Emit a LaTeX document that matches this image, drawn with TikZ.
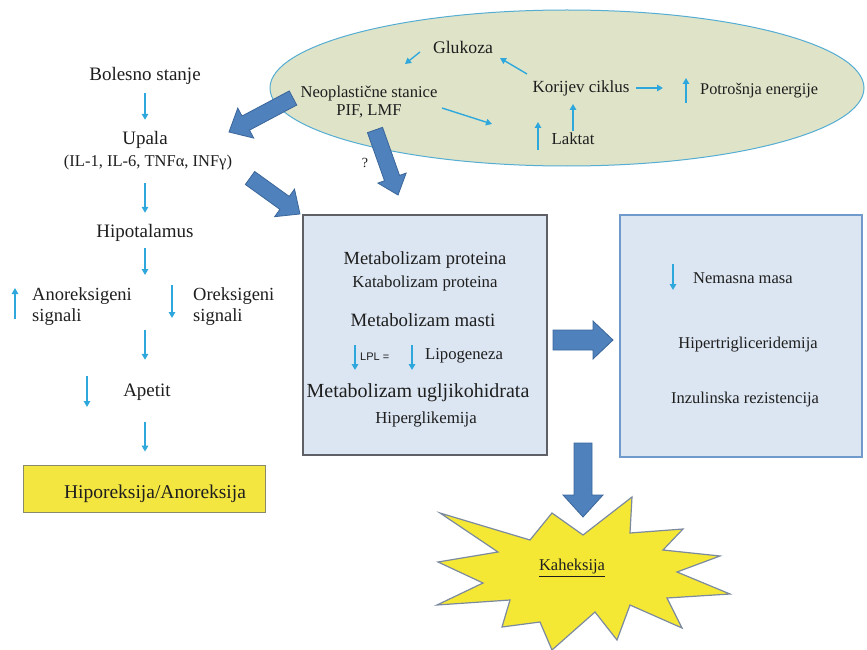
\documentclass[tikz,border=0pt]{standalone}
\usepackage{fontspec}
\setmainfont{Liberation Serif}
\setsansfont{Liberation Sans}
\usetikzlibrary{arrows.meta,shapes.geometric}
\definecolor{ellfill}{HTML}{DFE4C9}
\definecolor{ellline}{HTML}{55ADD3}
\definecolor{boxfill}{HTML}{DCE6F2}
\definecolor{boxgray}{HTML}{5E6065}
\definecolor{boxblue}{HTML}{6F9ACB}
\definecolor{sky}{HTML}{2EA8DC}
\definecolor{bigfill}{HTML}{4F81BD}
\definecolor{bigline}{HTML}{3B6699}
\definecolor{yel}{HTML}{F4E640}
\definecolor{yelline}{HTML}{8A8A6A}
\definecolor{starfill}{HTML}{F5E835}
\definecolor{starline}{HTML}{7C8AA0}
\definecolor{ink}{HTML}{1E1E1E}
\newcommand\fs[1]{\fontsize{#1}{#1}\selectfont}
\newcommand\bigarr[7]{\begin{scope}[shift={(#1,#2)},rotate=#3]
\draw[bigarrow] (0,-#5) -- ({#4-#7},-#5) -- ({#4-#7},-#6) -- (#4,0) -- ({#4-#7},#6) -- ({#4-#7},#5) -- (0,#5) -- cycle;
\end{scope}}
\tikzset{
  sarrow/.style={draw=sky, line width=1.4pt, -{Triangle[length=6pt,width=6.5pt]}},
  bigarrow/.style={fill=bigfill, draw=bigline, line width=0.8pt, line join=miter},
  txt/.style={inner sep=0pt, text=ink, font={\fs{19}}, text height=13pt, text depth=4pt},
  t/.style={inner sep=0pt, text=ink, font={\fs{#1}}},
}
\begin{document}
\begin{tikzpicture}[x=1pt,y=-1pt]
\useasboundingbox (0,0) rectangle (867,650);

% ellipse
\node[ellipse, draw=ellline, line width=1pt, fill=ellfill, minimum width=594pt, minimum height=156pt, inner sep=0pt] (tumor) at (567,88) {};
\node[t=17.7] (gluk) at (463,47) {Glukoza};
\node[t=16.6] (neo) at (369,93) {Neoplastične stanice};
\node[t=16.6] (pif) at (369,111) {PIF, LMF};
\node[t=17] (kor) at (581,88) {Korijev ciklus};
\node[t=16.3, anchor=west] (potr) at (700,91) {Potrošnja energije};
\node[t=16.8] (lak) at (573,139) {Laktat};
\draw[sarrow] (420,52) -- (405,64);
\draw[sarrow] (527,74) -- (500,58);
\draw[sarrow] (442,108) -- (492,124);
\draw[sarrow] (lak.north) ++(0,-2) -- (573,104);
\draw[sarrow] (kor.east) ++(6,0) -- (663,88);
\draw[sarrow] (686,103) -- (686,78);
\draw[sarrow] (538,150) -- (538,122);

% big arrows
\bigarr{293}{98}{207.98}{72.5}{8}{17}{19}
\bigarr{250}{178}{-35.75}{61.6}{8}{17}{19}
\bigarr{375}{130}{-70.5}{69}{8}{15}{18}
\node[t=14] (q) at (365,163) {?};

% left column
\node[txt] (boles) at (145,76) {Bolesno stanje};
\node[txt] (upala) at (145,140) {Upala};
\node[t=16.5, text height=11pt, text depth=3.5pt] (il) at (148,163) {(IL-1, IL-6, TNFα, INFγ)};
\node[txt] (hipo) at (145,233) {Hipotalamus};
\coordinate (sig) at (145,302);
\node[txt, font={\fs{18.5}}, anchor=west] (anor) at (32,296) {Anoreksigeni};
\node[txt, font={\fs{18.5}}, anchor=west] (anor2) at (32,317) {signali};
\node[txt, font={\fs{18.5}}, anchor=west] (orek) at (193,296) {Oreksigeni};
\node[txt, font={\fs{18.5}}, anchor=west] (orek2) at (193,317) {signali};
\node[txt] (apetit) at (147,392) {Apetit};
\node[draw=yelline, line width=0.8pt, fill=yel, minimum width=242pt, minimum height=47pt, inner sep=0pt] (hipor) at (144,488.5) {};
\node[t=19.5] (hiport) at (155,494) {Hiporeksija/Anoreksija};

\draw[sarrow, shorten <=8.5pt, shorten >=11.5pt] (boles) -- (upala);
\draw[sarrow, shorten <=13pt, shorten >=11.5pt] (hipo.north |- il.south) -- (hipo.north);
\draw[sarrow, shorten <=6.5pt, shorten >=27pt] (hipo) -- (sig);
\draw[sarrow, shorten <=28pt, shorten >=23.5pt] (sig) -- (sig |- apetit.north);
\draw[sarrow, shorten <=21.5pt, shorten >=13pt] (apetit.south -| hipo.south) -- (hipor.north -| hipo.south);
\draw[sarrow] (15,319) -- (15,288);
\draw[sarrow] (172,285) -- (172,318);
\draw[sarrow] (87,376) -- (87,407);

% box 1
\node[draw=boxgray, line width=1.5pt, fill=boxfill, minimum width=244pt, minimum height=240pt, inner sep=0pt] (meta) at (425,335) {};
\node[t=18.5] (mp) at (425,260) {Metabolizam proteina};
\node[t=16.8] (kp) at (425,283) {Katabolizam proteina};
\node[t=18.8] (mm) at (423,320) {Metabolizam masti};
\node[t=11, font={\sffamily\fs{11}}, anchor=west] (lpl) at (360,357) {LPL =};
\node[t=16.7] (lip) at (464,356) {Lipogeneza};
\draw[sarrow, line width=2pt] (355,345) -- (355,370);
\draw[sarrow, line width=2pt] (412,345) -- (412,370);
\node[t=20] (mu) at (418,393) {Metabolizam ugljikohidrata};
\node[t=16.8] (hg) at (426,419) {Hiperglikemija};

% box 2
\node[draw=boxblue, line width=1.5pt, fill=boxfill, minimum width=242pt, minimum height=242pt, inner sep=0pt] (res) at (741,336) {};
\draw[sarrow] (673,264) -- (673,290);
\node[t=16.5, anchor=west] (nm) at (693,278) {Nemasna masa};
\node[t=16.5] (ht) at (748,345) {Hipertrigliceridemija};
\node[t=16.5] (ir) at (745,400) {Inzulinska rezistencija};

\bigarr{553}{340}{0}{60}{10}{19}{20}
\bigarr{583}{443}{-90}{74}{9}{20}{22}

% star
\draw[fill=starfill, draw=starline, line width=1.2pt, line join=miter]
 (440,513) -- (530,540) -- (552,513) -- (583,535) -- (632,497) -- (630,533) -- (683,529) -- (663,550) -- (720,556) -- (677,572) -- (730,594) -- (667,598) -- (682,628) -- (630,605) -- (617,640) -- (595,612) -- (552,650) -- (540,622) -- (502,627) -- (510,600) -- (437,605) -- (483,583) -- (438,562) -- (498,552) -- cycle;
\node[t=16.5] (kah) at (572,568) {\underline{Kaheksija}};
\end{tikzpicture}
\end{document}
